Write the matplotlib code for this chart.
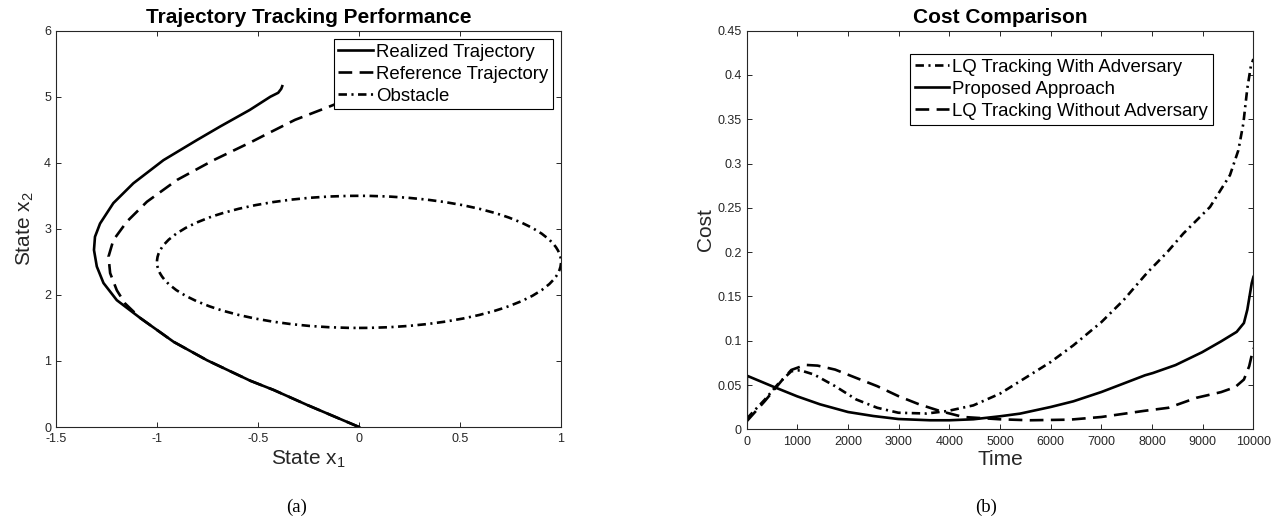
import matplotlib
matplotlib.use('Agg')
import matplotlib.pyplot as plt
from matplotlib.patches import Ellipse
from matplotlib.lines import Line2D

# ---------------- Left panel data ----------------
realized_x = [0.0, -0.256, -0.422, -0.538, -0.752, -0.918, -1.083, -1.199, -1.265,
              -1.298, -1.312, -1.307, -1.282, -1.216, -1.117, -0.968, -0.802, -0.687,
              -0.541, -0.439, -0.40, -0.385, -0.38]
realized_y = [0.0, 0.333, 0.56, 0.70, 1.01, 1.29, 1.65, 1.92, 2.18,
              2.43, 2.68, 2.88, 3.08, 3.39, 3.69, 4.04, 4.345, 4.55,
              4.80, 5.0, 5.06, 5.12, 5.16]

reference_x = [0.0, -0.256, -0.422, -0.538, -0.752, -0.918, -1.083, -1.158, -1.199,
               -1.232, -1.24, -1.216, -1.149, -1.05, -0.901, -0.72, -0.53, -0.46,
               -0.317, -0.156, -0.05, 0.0]
reference_y = [0.0, 0.333, 0.56, 0.70, 1.01, 1.29, 1.65, 1.87, 2.07,
               2.33, 2.58, 2.83, 3.11, 3.41, 3.74, 4.04, 4.32, 4.43,
               4.65, 4.84, 4.97, 5.02]

obstacle_center = (0.0, 2.5)
obstacle_width = 2.0
obstacle_height = 2.0

left_xticks = [-1.5, -1, -0.5, 0, 0.5, 1]
left_xticklabels = ['-1.5', '-1', '-0.5', '0', '0.5', '1']
left_yticks = [0, 1, 2, 3, 4, 5, 6]

# ---------------- Right panel data ----------------
time_adv = [0, 360, 637, 880, 1053, 1330, 1745, 2161, 2576, 2992, 3546, 3961, 4473,
            5000, 5526, 6000, 6447, 7000, 7434, 7862, 7959, 8300, 8617, 9144, 9538,
            9703, 9801, 9880, 9950, 10000]
cost_adv = [0.012, 0.0337, 0.0524, 0.0655, 0.0667, 0.0618, 0.0487, 0.0337, 0.0243,
            0.0187, 0.0178, 0.0206, 0.027, 0.0403, 0.059, 0.076, 0.0948, 0.121,
            0.1456, 0.174, 0.180, 0.200, 0.221, 0.251, 0.287, 0.315, 0.345, 0.385,
            0.41, 0.418]

time_prop = [0, 5, 499, 997, 1447, 2001, 2499, 2992, 3617, 4000, 4473, 5000, 5395,
             6000, 6447, 7000, 7434, 7862, 8015, 8463, 8987, 9363, 9670, 9813, 9880,
             9967, 10000]
cost_prop = [0.0, 0.0605, 0.0487, 0.0372, 0.0282, 0.0195, 0.0150, 0.0116, 0.0102,
             0.0102, 0.0113, 0.0147, 0.0177, 0.0252, 0.0316, 0.0421, 0.0516, 0.061,
             0.0635, 0.0725, 0.087, 0.0993, 0.110, 0.120, 0.135, 0.165, 0.172]

time_noadv = [0, 360, 706, 880, 1156, 1399, 1745, 2161, 2576, 2992, 3407, 3823, 4275,
              5000, 5592, 6382, 7000, 7829, 8324, 8878, 9363, 9640, 9813, 9917, 10000]
cost_noadv = [0.009, 0.032, 0.056, 0.067, 0.0727, 0.0719, 0.0674, 0.058, 0.0487,
              0.0375, 0.0281, 0.0205, 0.0139, 0.0113, 0.0102, 0.0109, 0.0139, 0.0207,
              0.0243, 0.0356, 0.042, 0.0476, 0.0562, 0.0712, 0.0918]

right_xticks = [0, 1000, 2000, 3000, 4000, 5000, 6000, 7000, 8000, 9000, 10000]
right_yticks = [0, 0.05, 0.1, 0.15, 0.2, 0.25, 0.3, 0.35, 0.4, 0.45]
right_yticklabels = ['0', '0.05', '0.1', '0.15', '0.2', '0.25', '0.3', '0.35', '0.4', '0.45']

# ---------------- Styling ----------------
plt.rcParams['font.family'] = ['Liberation Sans', 'DejaVu Sans']
plt.rcParams['mathtext.fontset'] = 'custom'
plt.rcParams['mathtext.rm'] = 'Liberation Sans'

LW = 1.9
SOLID = '-'
DASH = (0, (5.2, 2.8))
DASHDOT = (0, (3.2, 1.7, 0.8, 1.7))
GRAY = '#262626'

W, H = 1283, 527
fig = plt.figure(figsize=(W / 100, H / 100), dpi=100)
ax1 = fig.add_axes([56 / W, 1 - 427 / H, 505 / W, 396.3 / H])
ax2 = fig.add_axes([746.7 / W, 1 - 429.3 / H, 506.7 / W, 398.6 / H])


def style_axes(ax):
    for s in ax.spines.values():
        s.set_color(GRAY)
        s.set_linewidth(0.8)
    ax.tick_params(direction='in', length=3.6, width=0.7, color=GRAY,
                   labelcolor=GRAY, labelsize=9, top=True, right=True)
    ax.tick_params(axis='x', pad=4.5)
    ax.tick_params(axis='y', pad=3.5)


legend_kw = dict(fontsize=13.4, fancybox=False, framealpha=1, edgecolor='k',
                 handlelength=1.84, handletextpad=0.18, borderpad=0.25,
                 labelspacing=0.27, borderaxespad=0, loc='upper right')

# Left panel
ax1.plot(reference_x, reference_y, color='k', lw=LW, ls=DASH)
ax1.plot(realized_x, realized_y, color='k', lw=LW, ls=SOLID)
ax1.add_patch(Ellipse(obstacle_center, obstacle_width, obstacle_height, fill=False,
                      edgecolor='k', lw=LW, ls=DASHDOT))
ax1.set_xlim(-1.5, 1)
ax1.set_ylim(0, 6)
ax1.set_xticks(left_xticks)
ax1.set_xticklabels(left_xticklabels)
ax1.set_yticks(left_yticks)
style_axes(ax1)
ax1.set_title('Trajectory Tracking Performance', fontsize=15, fontweight='bold', pad=5.5)
ax1.set_xlabel(r'State x$_\mathregular{1}$', fontsize=15, color=GRAY, labelpad=2)
ax1.set_ylabel(r'State x$_\mathregular{2}$', fontsize=15, color=GRAY, labelpad=6)
handles1 = [Line2D([], [], color='k', lw=LW, ls=SOLID),
            Line2D([], [], color='k', lw=LW, ls=DASH),
            Line2D([], [], color='k', lw=LW, ls=DASHDOT)]
leg1 = ax1.legend(handles1, ['Realized Trajectory', 'Reference Trajectory', 'Obstacle'],
                  bbox_to_anchor=(0.984, 0.979), **legend_kw)
leg1.get_frame().set_linewidth(0.8)

# Right panel
ax2.plot(time_adv, cost_adv, color='k', lw=LW, ls=DASHDOT)
ax2.plot(time_prop, cost_prop, color='k', lw=LW, ls=SOLID)
ax2.plot(time_noadv, cost_noadv, color='k', lw=LW, ls=DASH)
ax2.set_xlim(0, 10000)
ax2.set_ylim(0, 0.45)
ax2.set_xticks(right_xticks)
ax2.set_yticks(right_yticks)
ax2.set_yticklabels(right_yticklabels)
style_axes(ax2)
ax2.set_title('Cost Comparison', fontsize=15, fontweight='bold', pad=5.5)
ax2.set_xlabel('Time', fontsize=15, color=GRAY, labelpad=2)
ax2.set_ylabel('Cost', fontsize=15, color=GRAY, labelpad=2)
handles2 = [Line2D([], [], color='k', lw=LW, ls=DASHDOT),
            Line2D([], [], color='k', lw=LW, ls=SOLID),
            Line2D([], [], color='k', lw=LW, ls=DASH)]
leg2 = ax2.legend(handles2, ['LQ Tracking With Adversary', 'Proposed Approach',
                             'LQ Tracking Without Adversary'],
                  bbox_to_anchor=(0.920, 0.941), **legend_kw)
leg2.get_frame().set_linewidth(0.8)

# Captions
fig.text(297 / W, 1 - 507 / H, '(a)', ha='center', va='center',
         family='Liberation Serif', fontsize=13.5)
fig.text(986 / W, 1 - 507 / H, '(b)', ha='center', va='center',
         family='Liberation Serif', fontsize=13.5)

fig.savefig('out.png', dpi=100)
